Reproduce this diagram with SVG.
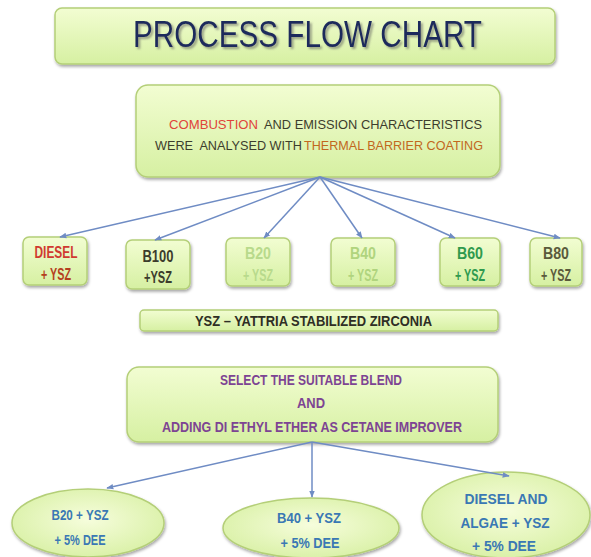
<svg xmlns="http://www.w3.org/2000/svg" width="591" height="557" viewBox="0 0 591 557">
<defs>
<linearGradient id="g" x1="0" y1="0" x2="0" y2="1">
<stop offset="0" stop-color="#f2fdd2"/>
<stop offset="1" stop-color="#d6f0a2"/>
</linearGradient>
<radialGradient id="rg" cx="0.5" cy="0.45" r="0.6">
<stop offset="0" stop-color="#f6fddc"/>
<stop offset="1" stop-color="#d8f0a4"/>
</radialGradient>
<filter id="sh" x="-10%" y="-10%" width="120%" height="130%">
<feDropShadow dx="1" dy="2" stdDeviation="1.5" flood-color="#000" flood-opacity="0.35"/>
</filter>
<filter id="tsh" x="-5%" y="-20%" width="110%" height="150%">
<feDropShadow dx="2" dy="2" stdDeviation="1" flood-color="#555" flood-opacity="0.55"/>
</filter>
<marker id="ah" viewBox="0 0 10 10" refX="9" refY="5" markerWidth="7" markerHeight="7" orient="auto-start-reverse" markerUnits="userSpaceOnUse">
<path d="M0,1 L10,5 L0,9 z" fill="#6f8cc4"/>
</marker>
<style>
.box{fill:url(#g);stroke:#b4cf78;stroke-width:1.5;filter:url(#sh)}
.ell{fill:url(#rg);stroke:#b4cf78;stroke-width:1.5;filter:url(#sh)}
text{font-family:"Liberation Sans",Arial,sans-serif}
.t{font-size:13.5px}
.s{font-size:16px;text-anchor:middle;font-weight:bold}
.e{font-size:15px;text-anchor:middle;font-weight:bold}
.b{font-weight:bold}
.c{stroke:#6f8cc4;stroke-width:1.5;fill:none;marker-end:url(#ah)}
.blue{fill:#3a78b4}
.pur{fill:#7d4493}
</style>
</defs>
<rect width="591" height="557" fill="#fff"/>

<g id="title">
<rect class="box" x="55" y="8" width="500" height="56" rx="7"/>
<text x="133" y="47" font-size="36" fill="#1f2c5c" textLength="349" lengthAdjust="spacingAndGlyphs" filter="url(#tsh)">PROCESS FLOW CHART</text>
</g>

<g id="combustion">
<rect class="box" x="136" y="85" width="364" height="92" rx="12"/>
<text class="t" x="169" y="129" fill="#e0443a" textLength="89" lengthAdjust="spacingAndGlyphs">COMBUSTION</text>
<text class="t" x="264" y="129" fill="#3d3d2d" textLength="218" lengthAdjust="spacingAndGlyphs">AND EMISSION CHARACTERISTICS</text>
<text class="t" x="155" y="150" fill="#3d3d2d" textLength="147" lengthAdjust="spacingAndGlyphs" xml:space="preserve">WERE  ANALYSED WITH</text>
<text class="t" x="304" y="150" fill="#c2681e" textLength="179" lengthAdjust="spacingAndGlyphs">THERMAL BARRIER COATING</text>
</g>

<g id="diesel">
<rect class="box" x="23" y="237" width="64" height="48" rx="6"/>
<text class="s" x="56" y="258" fill="#d03a30" textLength="43" lengthAdjust="spacingAndGlyphs">DIESEL</text>
<text class="s" x="56" y="280" fill="#b5401e" textLength="30" lengthAdjust="spacingAndGlyphs">+ YSZ</text>
</g>
<g id="b100">
<rect class="box" x="126" y="240" width="64" height="49" rx="6"/>
<text class="s" x="158" y="262" fill="#3c3c2c" textLength="31" lengthAdjust="spacingAndGlyphs">B100</text>
<text class="s" x="158" y="283" fill="#3c3c2c" textLength="28" lengthAdjust="spacingAndGlyphs">+YSZ</text>
</g>
<g id="b20">
<rect class="box" x="226" y="238" width="64" height="48" rx="6"/>
<text class="s" x="258" y="259" fill="#b8da8c" textLength="26" lengthAdjust="spacingAndGlyphs">B20</text>
<text class="s" x="258" y="281" fill="#b8da8c" textLength="30" lengthAdjust="spacingAndGlyphs">+ YSZ</text>
</g>
<g id="b40">
<rect class="box" x="331" y="238" width="64" height="48" rx="6"/>
<text class="s" x="363" y="259" fill="#b0d47e" textLength="26" lengthAdjust="spacingAndGlyphs">B40</text>
<text class="s" x="363" y="281" fill="#b0d47e" textLength="30" lengthAdjust="spacingAndGlyphs">+ YSZ</text>
</g>
<g id="b60">
<rect class="box" x="440" y="238" width="60" height="48" rx="6"/>
<text class="s" x="470" y="259" fill="#2f9a4e" textLength="26" lengthAdjust="spacingAndGlyphs">B60</text>
<text class="s" x="470" y="281" fill="#2f9a4e" textLength="30" lengthAdjust="spacingAndGlyphs">+ YSZ</text>
</g>
<g id="b80">
<rect class="box" x="530" y="238" width="52" height="48" rx="6"/>
<text class="s" x="556" y="259" fill="#5a5a3c" textLength="26" lengthAdjust="spacingAndGlyphs">B80</text>
<text class="s" x="556" y="281" fill="#5a5a3c" textLength="30" lengthAdjust="spacingAndGlyphs">+ YSZ</text>
</g>

<g id="ysz">
<rect class="box" x="140" y="310" width="358" height="21" rx="4"/>
<text class="b" x="195" y="326" font-size="15" fill="#2e2e24" textLength="237" lengthAdjust="spacingAndGlyphs">YSZ – YATTRIA STABILIZED ZIRCONIA</text>
</g>

<g id="select">
<rect class="box" x="127" y="367" width="371" height="75" rx="12"/>
<text class="pur b" x="220" y="385" font-size="15" textLength="182" lengthAdjust="spacingAndGlyphs">SELECT THE SUITABLE BLEND</text>
<text class="pur b" x="297" y="408" font-size="15" textLength="28" lengthAdjust="spacingAndGlyphs">AND</text>
<text class="pur b" x="162" y="432" font-size="15" textLength="300" lengthAdjust="spacingAndGlyphs">ADDING DI ETHYL ETHER AS CETANE IMPROVER</text>
</g>

<g id="e1">
<ellipse class="ell" cx="88" cy="523" rx="76" ry="34"/>
<text class="e blue" x="80" y="520" textLength="57" lengthAdjust="spacingAndGlyphs">B20 + YSZ</text>
<text class="e blue" x="80" y="545" textLength="51" lengthAdjust="spacingAndGlyphs">+ 5% DEE</text>
</g>
<g id="e2">
<ellipse class="ell" cx="311" cy="528" rx="88" ry="30"/>
<text class="e blue" x="309" y="523" textLength="64" lengthAdjust="spacingAndGlyphs">B40 + YSZ</text>
<text class="e blue" x="310" y="548" textLength="59" lengthAdjust="spacingAndGlyphs">+ 5% DEE</text>
</g>
<g id="e3">
<ellipse class="ell" cx="506" cy="515" rx="84" ry="43"/>
<text class="e blue" x="506" y="504" textLength="83" lengthAdjust="spacingAndGlyphs">DIESEL AND</text>
<text class="e blue" x="505" y="528" textLength="89" lengthAdjust="spacingAndGlyphs">ALGAE + YSZ</text>
<text class="e blue" x="504" y="551" textLength="64" lengthAdjust="spacingAndGlyphs">+ 5% DEE</text>
</g>

<g id="connectors">
<line class="c" x1="320" y1="177" x2="60" y2="237"/>
<line class="c" x1="320" y1="177" x2="155" y2="240"/>
<line class="c" x1="320" y1="177" x2="264" y2="238"/>
<line class="c" x1="320" y1="177" x2="362" y2="238"/>
<line class="c" x1="320" y1="177" x2="455" y2="238"/>
<line class="c" x1="320" y1="177" x2="560" y2="238"/>
<line class="c" x1="312" y1="442" x2="107" y2="488"/>
<line class="c" x1="312" y1="442" x2="312" y2="497"/>
<line class="c" x1="312" y1="442" x2="509" y2="476"/>
</g>
</svg>
